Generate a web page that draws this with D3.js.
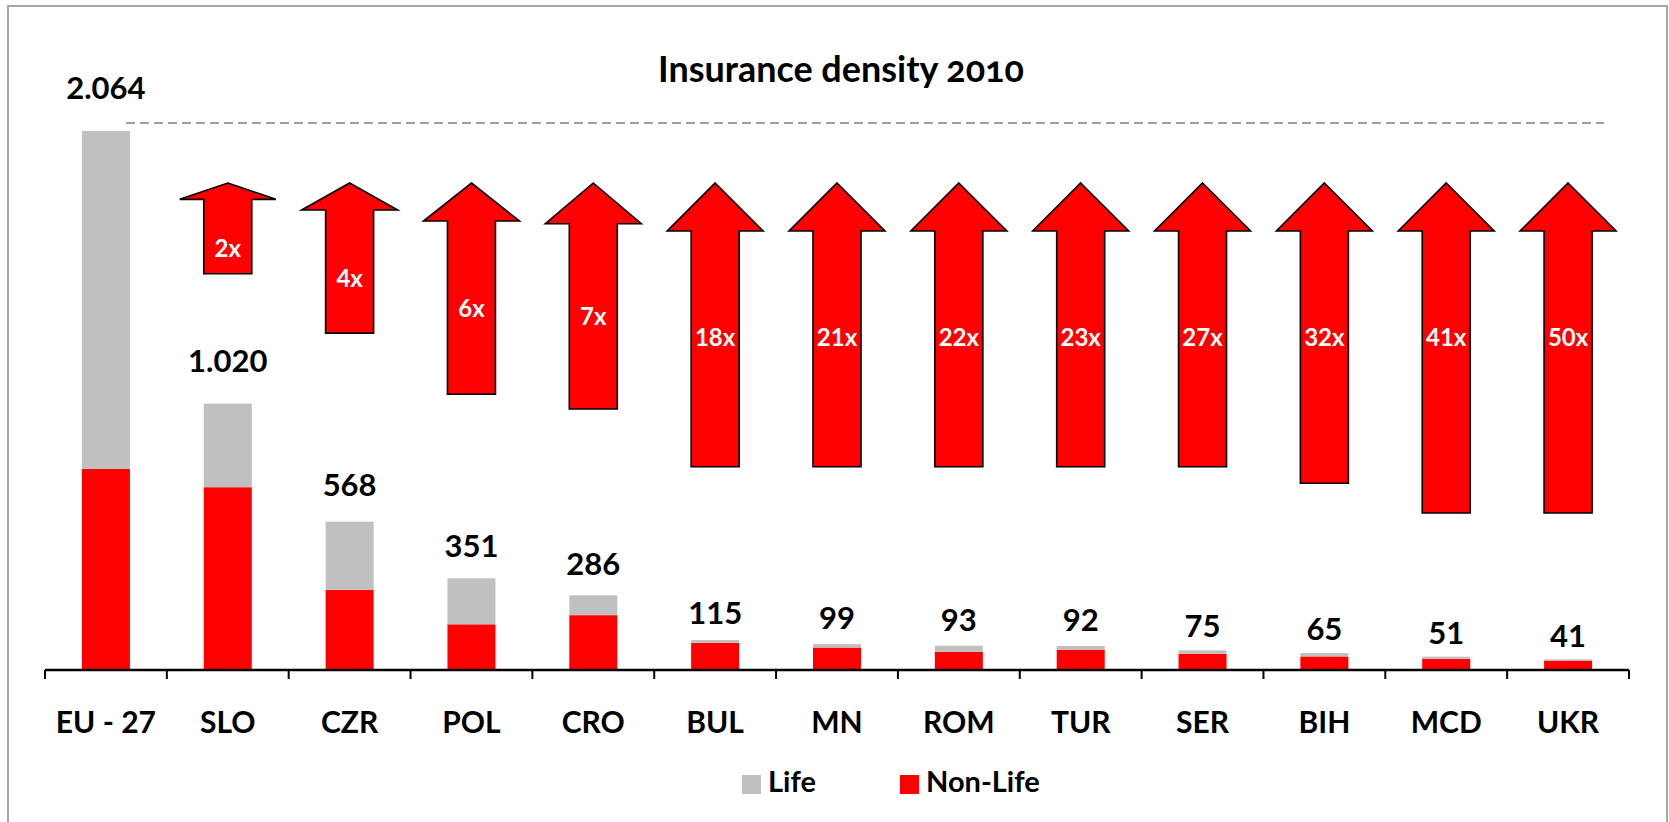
<!DOCTYPE html>
<html>
<head>
<meta charset="utf-8">
<script src="https://cdn.jsdelivr.net/npm/d3@7/dist/d3.min.js"></script>
<style>
    body { margin: 0; background: #fff; }
    svg text { font-family: Lato, "Open Sans", sans-serif; font-weight: 700; }
</style>
</head>
<body>
<svg id="chart"></svg>
<script>
var width = 1669;
var height = 822;

// data (EUR per capita)
var countries = ["EU - 27", "SLO", "CZR", "POL", "CRO", "BUL", "MN", "ROM", "TUR", "SER", "BIH", "MCD", "UKR"];
var totals = [2064, 1020, 568, 351, 286, 115, 99, 93, 92, 75, 65, 51, 41];
var nonLife = [770, 700, 307, 175, 210, 104, 86, 70, 78, 62, 52, 43, 36];
var life = [1294, 320, 261, 176, 76, 11, 13, 23, 14, 13, 13, 8, 5];
// gap to EU-27, and arrow length as % of the longest arrow
var growth = [null, 2, 4, 6, 7, 18, 21, 22, 23, 27, 32, 41, 50];
var arrowPct = [null, 27.5, 45.5, 64, 68.5, 86, 86, 86, 86, 86, 91, 100, 100];
var legendItems = ["Life", "Non-Life"];

var colors = { life: "#c0c0c0", nonLife: "#ff0000" };

var fmt = d3.formatLocale({ decimal: ",", thousands: ".", grouping: [3], currency: ["", ""] }).format(",d");

var rows = countries.map((c, i) => ({ name: c, nonLife: nonLife[i], life: life[i], total: totals[i], growth: growth[i], arrow: arrowPct[i] }));

var svg = d3.select("#chart").attr("width", width).attr("height", height);

// outer frame
svg.append("rect")
    .attr("x", 8).attr("y", 6)
    .attr("width", 1659).attr("height", 900)
    .attr("fill", "none")
    .attr("stroke", "#a6a6a6")
    .attr("stroke-width", 2);

var x = d3.scaleBand()
    .domain(countries)
    .range([45, 1629])
    .paddingInner(0.606)
    .paddingOuter(0.303);

var y = d3.scaleLinear()
    .domain([0, 2064])
    .range([670, 131]);

var stack = d3.stack().keys(["nonLife", "life"]);
var series = stack(rows);

svg.append("g").selectAll("g")
    .data(series)
    .join("g")
    .attr("fill", d => colors[d.key])
    .selectAll("rect")
    .data(d => d)
    .join("rect")
    .attr("x", d => x(d.data.name))
    .attr("width", x.bandwidth())
    .attr("y", d => y(d[1]))
    .attr("height", d => y(d[0]) - y(d[1]));

// value labels, gap above bar grows with bar height
svg.append("g").selectAll("text")
    .data(rows)
    .join("text")
    .attr("x", d => x(d.name) + x.bandwidth() / 2)
    .attr("y", d => y(d.total) - (7 + 25 * Math.sqrt(Math.min(d.total, 1000) / 1000)))
    .attr("text-anchor", "middle")
    .style("font-size", "31px")
    .text(d => fmt(d.total));

// dashed EU-27 reference line
svg.append("line")
    .attr("x1", 126).attr("x2", 1604)
    .attr("y1", y(2064) - 8).attr("y2", y(2064) - 8)
    .attr("stroke", "#808080")
    .attr("stroke-width", 1.5)
    .attr("stroke-dasharray", "9,5");

// x axis with ticks between categories
var axisY = y(0);
var step = x.step();
var tickXs = countries.map(c => x(c) - step * x.paddingInner() / 2);
tickXs.push(x.range()[1]);
var axis = svg.append("g");
axis.append("line")
    .attr("x1", x.range()[0]).attr("x2", x.range()[1])
    .attr("y1", axisY).attr("y2", axisY)
    .attr("stroke", "#000").attr("stroke-width", 2.5);
axis.selectAll(".tick")
    .data(tickXs)
    .join("line")
    .attr("class", "tick")
    .attr("x1", d => d).attr("x2", d => d)
    .attr("y1", axisY).attr("y2", axisY + 9)
    .attr("stroke", "#000").attr("stroke-width", 2);
axis.selectAll("text")
    .data(countries)
    .join("text")
    .attr("x", d => x(d) + x.bandwidth() / 2)
    .attr("y", 733)
    .attr("text-anchor", "middle")
    .style("font-size", "30px")
    .text(d => d);

// growth arrows
var arrowTop = 183;
var arrowLen = d3.scaleLinear().domain([0, 100]).range([0, 330]);
function arrowPath(cx, len) {
    var head = Math.min(48, len * 0.18);
    var hw = 48, sw = 24;
    return "M" + cx + "," + arrowTop +
        "L" + (cx + hw) + "," + (arrowTop + head) +
        "L" + (cx + sw) + "," + (arrowTop + head) +
        "L" + (cx + sw) + "," + (arrowTop + len) +
        "L" + (cx - sw) + "," + (arrowTop + len) +
        "L" + (cx - sw) + "," + (arrowTop + head) +
        "L" + (cx - hw) + "," + (arrowTop + head) + "Z";
}
var arrowRows = rows.filter(d => d.growth);
var arrows = svg.append("g").selectAll("g")
    .data(arrowRows)
    .join("g");
arrows.append("path")
    .attr("d", d => arrowPath(x(d.name) + x.bandwidth() / 2, arrowLen(d.arrow)))
    .attr("fill", "#ff0000")
    .attr("stroke", "#000")
    .attr("stroke-width", 1.6)
    .attr("stroke-linejoin", "miter");
arrows.append("text")
    .attr("x", d => x(d.name) + x.bandwidth() / 2)
    .attr("y", d => Math.min(337, arrowTop + arrowLen(d.arrow) / 2 + 20))
    .attr("dy", "0.36em")
    .attr("text-anchor", "middle")
    .attr("fill", "#fff")
    .style("font-size", "24px")
    .text(d => d.growth + "x");

// title
var title = svg.append("text")
    .attr("x", 841)
    .attr("y", 82)
    .attr("text-anchor", "middle")
    .style("font-size", "36px")
    .style("font-variant-numeric", "oldstyle-nums")
    .text("Insurance density 2010");
var tw = title.node().getComputedTextLength();
title.style("font-size", (36 * 366 / tw) + "px");

// legend
var legendX = [742, 900];
var legend = svg.append("g").selectAll("g")
    .data(legendItems)
    .join("g")
    .attr("transform", (d, i) => "translate(" + legendX[i] + ",775)");
legend.append("rect")
    .attr("width", 19).attr("height", 19)
    .attr("fill", (d, i) => i === 0 ? colors.life : colors.nonLife);
legend.append("text")
    .attr("x", 26)
    .attr("y", 17)
    .style("font-size", "29px")
    .text(d => d);
</script>
</body>
</html>
